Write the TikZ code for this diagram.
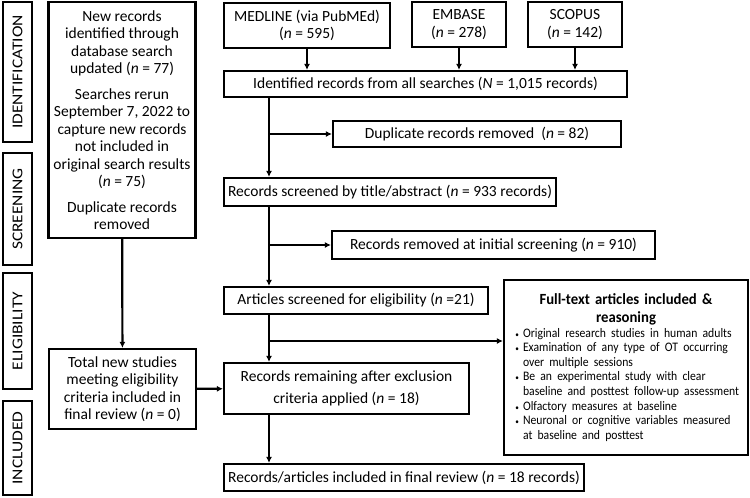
\documentclass[tikz,border=0pt]{standalone}
\usepackage{fontspec}
\setmainfont{Carlito}
\newfontfamily\phasefont{Carlito}[FakeStretch=1.16]
\newfontfamily\headfont{Carlito}[FakeStretch=0.95]
\newfontfamily\itemfont{Carlito}[FakeStretch=0.9]
\usetikzlibrary{arrows.meta}
\begin{document}
\begin{tikzpicture}[x=1pt,y=-1pt,
				every node/.style={draw,line width=2.2pt,inner sep=2pt,align=center,
					font=\fontsize{15.5}{17.5}\selectfont},
				phase/.style={rotate=90,minimum height=29,font=\phasefont\fontsize{15}{17}\selectfont},
				arr/.style={line width=2.2pt,-{Latex[length=6pt,width=6pt]}}]
\useasboundingbox (0,0) rectangle (750,498);
% phase labels
\node[phase,minimum width=140] (idlab) at (17.5,72) {IDENTIFICATION};
\node[phase,minimum width=112] (sclab) at (17.5,209) {SCREENING};
\node[phase,minimum width=116] (ellab) at (17.5,331) {ELIGIBILITY};
\node[phase,minimum width=94] (inlab) at (17.5,448) {INCLUDED};
% updated search
\node[minimum width=147,minimum height=236] (upd) at (122,120)
	{New records\\identified through\\database search\\updated (\textit{n} = 77)\\[8pt]
	 Searches rerun\\September 7, 2022 to\\capture new records\\not included in\\original search results\\(\textit{n} = 75)\\[8pt]
	 Duplicate records\\removed};
\node[minimum width=147,minimum height=80] (tot) at (122.5,389)
	{Total new studies\\meeting eligibility\\criteria included in\\final review (\textit{n} = 0)};
% databases
\node[minimum width=166,minimum height=45] (med) at (307,25.5) {MEDLINE (via PubMEd)\\(\textit{n} = 595)};
\node[minimum width=94,minimum height=45] (emb) at (459,24.5) {EMBASE\\(\textit{n} = 278)};
\node[minimum width=94,minimum height=45] (sco) at (575,24.5) {SCOPUS\\(\textit{n} = 142)};
% main flow
\node[minimum width=403,minimum height=26] (ident) at (425.5,84)
	{Identified records from all searches (\textit{N} = 1,015 records)};
\node[minimum width=288,minimum height=26] (dup) at (477,134) {Duplicate records removed~~(\textit{n} = 82)};
\node[minimum width=332,minimum height=28] (scr) at (390,192)
	{Records screened by title/abstract (\textit{n} = 933 records)};
\node[minimum width=323,minimum height=28] (rem) at (493.5,245)
	{Records removed at initial screening (\textit{n} = 910)};
\node[minimum width=264,minimum height=27] (art) at (356,300.5)
	{Articles screened for eligibility (\textit{n} =21)};
\node[minimum width=245,minimum height=51,font=\fontsize{15.5}{21.5}\selectfont] (remn) at (346.5,388.5)
	{Records remaining after exclusion\\criteria applied (\textit{n} = 18)};
\node[minimum width=360,minimum height=27] (fin) at (404,477.5)
	{Records/articles included in final review (\textit{n} = 18 records)};
% reasoning
\node[minimum width=244,minimum height=175,text width=238,align=left] (full) at (626,367.5)
	{{\centering\headfont\fontsize{15.5}{18}\selectfont\bfseries Full-text articles included \&\\reasoning\par}
	 \itemfont\fontsize{13}{14.6}\selectfont\raggedright
	 \begin{list}{{\fontsize{8}{8}\selectfont\textbullet}}{\leftmargin=16pt\labelwidth=8pt\labelsep=4pt\itemsep=0pt\topsep=0pt\parsep=0pt\partopsep=0pt}
	 \item Original research studies in human adults
	 \item Examination of any type of OT occurring\\over multiple sessions
	 \item Be an experimental study with clear\\baseline and posttest follow-up assessment
	 \item Olfactory measures at baseline
	 \item Neuronal or cognitive variables measured\\at baseline and posttest
	 \end{list}\vspace{12pt}};
% connectors
\coordinate (tx) at (269,0);
\coordinate (br) at (269,341);
\draw[arr] (med) -- (med |- ident.north);
\draw[arr] (emb) -- (emb |- ident.north);
\draw[arr] (sco) -- (sco |- ident.north);
\draw[arr] (ident.south -| tx) -- (scr.north -| tx);
\draw[arr] (tx |- dup.west) -- (dup.west);
\draw[arr] (scr.south -| tx) -- (art.north -| tx);
\draw[arr] (tx |- rem.west) -- (rem.west);
\draw[arr] (art.south -| tx) -- (remn.north -| tx);
\draw[arr] (br) -- (br -| full.west);
\draw[arr] (remn.south -| tx) -- (fin.north -| tx);
\draw[arr] (upd) -- (tot);
\draw[arr] (tot) -- (remn);
\end{tikzpicture}
\end{document}
